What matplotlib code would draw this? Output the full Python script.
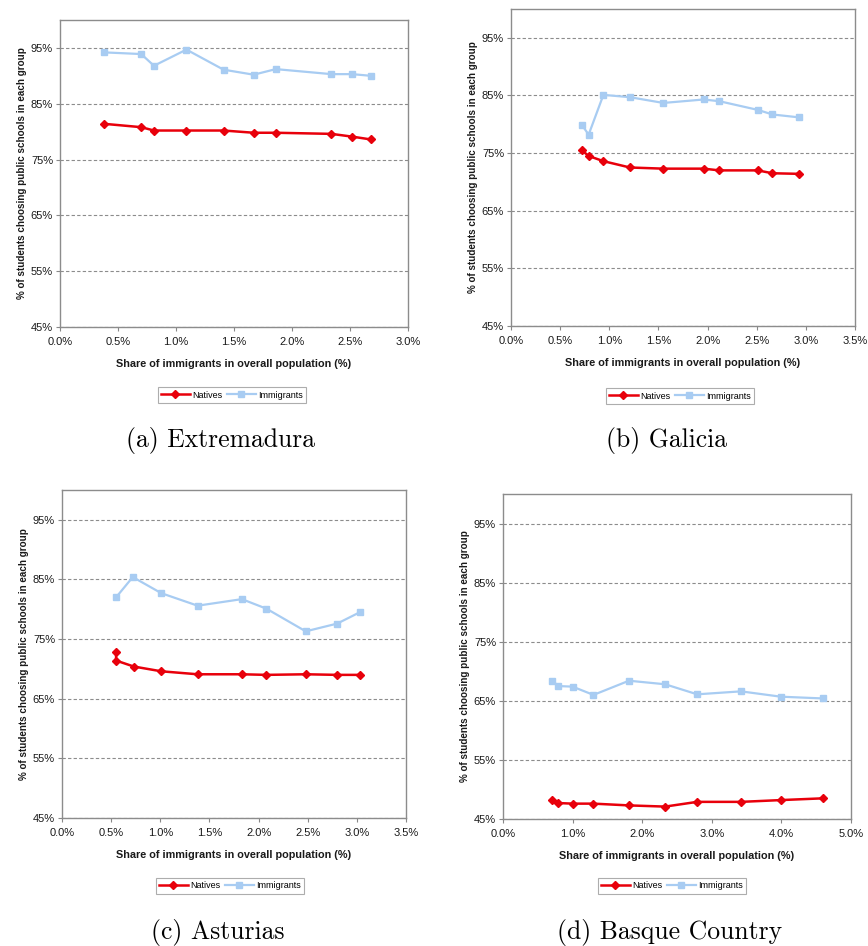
import numpy as np
import matplotlib.pyplot as plt
from matplotlib.ticker import FuncFormatter

plt.rcParams['font.family'] = ['Liberation Sans', 'DejaVu Sans']

# Extremadura
ext_x_nat = [0.38, 0.70, 0.81, 1.09, 1.41, 1.67, 1.86, 2.34, 2.52, 2.68]
ext_nat = [81.4, 80.8, 80.2, 80.2, 80.2, 79.8, 79.8, 79.6, 79.1, 78.6]
ext_x_imm = [0.38, 0.70, 0.81, 1.09, 1.41, 1.67, 1.86, 2.34, 2.52, 2.68]
ext_imm = [94.2, 93.9, 91.8, 94.7, 91.1, 90.2, 91.2, 90.3, 90.3, 90.0]

# Galicia
gal_x_nat = [0.72, 0.79, 0.94, 1.21, 1.55, 1.96, 2.12, 2.51, 2.66, 2.93]
gal_nat = [75.5, 74.5, 73.6, 72.5, 72.3, 72.3, 72.0, 72.0, 71.5, 71.4]
gal_x_imm = [0.72, 0.79, 0.94, 1.21, 1.55, 1.96, 2.12, 2.51, 2.66, 2.93]
gal_imm = [79.9, 78.2, 85.1, 84.7, 83.7, 84.3, 84.0, 82.5, 81.7, 81.2]

# Asturias
ast_x_nat = [0.55, 0.55, 0.73, 1.01, 1.38, 1.83, 2.08, 2.48, 2.80, 3.03]
ast_nat = [72.8, 71.4, 70.4, 69.6, 69.1, 69.1, 69.0, 69.1, 69.0, 69.0]
ast_x_imm = [0.55, 0.72, 1.01, 1.38, 1.83, 2.08, 2.48, 2.80, 3.03]
ast_imm = [82.0, 85.4, 82.7, 80.6, 81.7, 80.1, 76.3, 77.6, 79.5]

# Basque Country
bas_x_nat = [0.71, 0.79, 1.00, 1.30, 1.81, 2.33, 2.79, 3.42, 3.99, 4.60]
bas_nat = [48.3, 47.7, 47.6, 47.6, 47.3, 47.1, 47.9, 47.9, 48.2, 48.5]
bas_x_imm = [0.71, 0.79, 1.00, 1.30, 1.81, 2.33, 2.79, 3.42, 3.99, 4.60]
bas_imm = [68.4, 67.5, 67.4, 66.0, 68.4, 67.8, 66.1, 66.6, 65.7, 65.4]

y_ticks = [45, 55, 65, 75, 85, 95]

W, H = 868, 946
fig = plt.figure(figsize=(W / 100, H / 100), dpi=100)

# (pixel box of axes, x max, x step, legend centre, caption, caption centre)
panels = [
    ((60, 20, 408, 327), 3.0, 0.5, (232, 395), '(a) Extremadura', (220, 440),
     ext_x_nat, ext_nat, ext_x_imm, ext_imm),
    ((511, 9, 855, 326), 3.5, 0.5, (680, 396), '(b) Galicia', (667, 440),
     gal_x_nat, gal_nat, gal_x_imm, gal_imm),
    ((62, 490, 406, 818), 3.5, 0.5, (230, 886), '(c) Asturias', (218, 932),
     ast_x_nat, ast_nat, ast_x_imm, ast_imm),
    ((503, 494, 851, 819), 5.0, 1.0, (672, 886), '(d) Basque Country', (670, 932),
     bas_x_nat, bas_nat, bas_x_imm, bas_imm),
]

for box, xmax, xstep, leg_c, cap, cap_c, xn, yn, xi, yi in panels:
    l, t, r, b = box
    ax = fig.add_axes([l / W, 1 - b / H, (r - l) / W, (b - t) / H])
    ax.plot(xn, yn, color='#e8000b', lw=1.8, marker='D', ms=4, label='Natives', zorder=3)
    ax.plot(xi, yi, color='#a8ccf2', lw=1.6, marker='s', ms=4.5, label='Immigrants', zorder=3)
    ax.set_xlim(0, xmax)
    ax.set_ylim(45, 100)
    ax.set_xticks(np.arange(0, xmax + 1e-9, xstep))
    ax.set_yticks(y_ticks)
    ax.xaxis.set_major_formatter(FuncFormatter(lambda v, p: f'{v:.1f}%'))
    ax.yaxis.set_major_formatter(FuncFormatter(lambda v, p: f'{v:.0f}%'))
    ax.tick_params(labelsize=8, length=3, width=0.8, color='#888888', pad=2, labelcolor='#1a1a1a')
    ax.tick_params(axis='x', pad=4)
    ax.grid(axis='y', ls=(0, (3, 2)), color='#8c8c8c', lw=0.8)
    ax.set_axisbelow(True)
    for sp in ax.spines.values():
        sp.set_color('#8c8c8c')
        sp.set_linewidth(1.0)
    ax.set_xlabel('Share of immigrants in overall population (%)', fontsize=7.8,
                  fontweight='bold', labelpad=9, color='#1a1a1a')
    ax.set_ylabel('% of students choosing public schools in each group', fontsize=7.1,
                  fontweight='bold', labelpad=3, color='#1a1a1a')
    leg = ax.legend(loc='center', bbox_to_anchor=(leg_c[0] / W, 1 - leg_c[1] / H),
                    bbox_transform=fig.transFigure, ncol=2, fontsize=6.5, frameon=True,
                    fancybox=False, edgecolor='#999999', handlelength=3.2,
                    columnspacing=0.5, handletextpad=0.3, borderpad=0.35)
    leg.get_frame().set_linewidth(0.8)
    fig.text(cap_c[0] / W, 1 - cap_c[1] / H, cap, ha='center', va='center',
             fontsize=18.5, family='cmr10')

fig.savefig('out.png', dpi=100)
